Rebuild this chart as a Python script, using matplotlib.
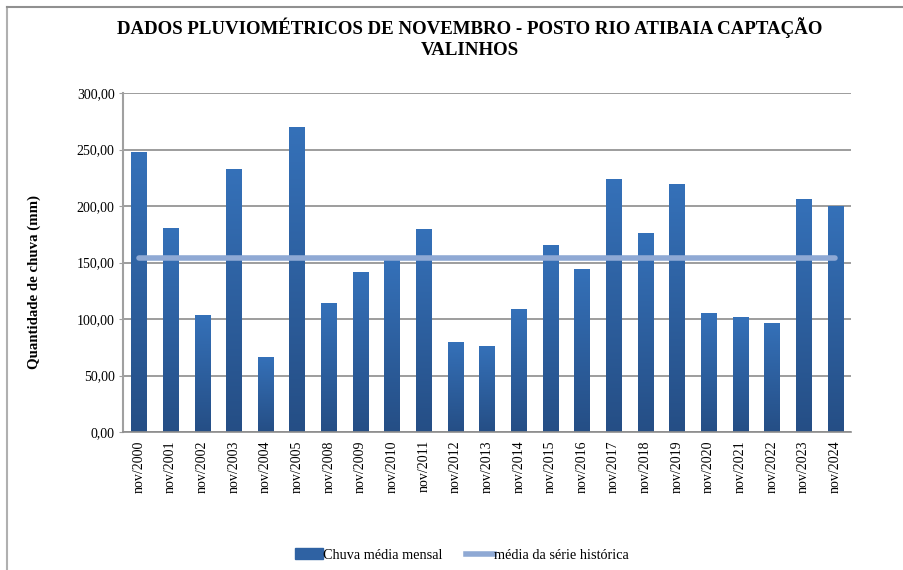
import matplotlib
matplotlib.use("Agg")
import matplotlib.pyplot as plt
import numpy as np
from matplotlib.lines import Line2D
from matplotlib.patches import Rectangle
from matplotlib.colors import LinearSegmentedColormap

categories = ["nov/2000", "nov/2001", "nov/2002", "nov/2003", "nov/2004", "nov/2005",
              "nov/2008", "nov/2009", "nov/2010", "nov/2011", "nov/2012", "nov/2013",
              "nov/2014", "nov/2015", "nov/2016", "nov/2017", "nov/2018", "nov/2019",
              "nov/2020", "nov/2021", "nov/2022", "nov/2023", "nov/2024"]
chuva = [248.0, 180.8, 103.8, 233.0, 66.6, 270.2,
         114.4, 141.9, 152.5, 179.9, 79.9, 76.4,
         109.1, 165.7, 144.5, 224.2, 176.4, 219.7,
         105.6, 102.0, 96.7, 206.5, 200.3]
media_historica = 154.2
yticks = [0, 50, 100, 150, 200, 250, 300]
ytick_labels = ["0,00", "50,00", "100,00", "150,00", "200,00", "250,00", "300,00"]

plt.rcParams['font.family'] = ['Liberation Serif', 'DejaVu Serif']

fig = plt.figure(figsize=(9.04, 5.70), dpi=100)
ax = fig.add_axes([123/904, 1-432/570, (851-123)/904, (432-93)/570])

x = np.arange(len(categories))
bars = ax.bar(x, chuva, width=0.48, color="#2f62a3", zorder=2)

# vertical gradient inside bars
grad = np.linspace(0, 1, 256).reshape(-1, 1)
cmap = LinearSegmentedColormap.from_list("g", ["#254e85", "#3571b9"])
for b in bars:
    im = ax.imshow(grad, extent=[b.get_x(), b.get_x() + b.get_width(), 0, b.get_height()],
                   origin="lower", cmap=cmap, aspect="auto", zorder=2.1)
    im.set_clip_path(b)

ax.plot([x[0], x[-1]], [media_historica, media_historica], color="#8fa9d4", lw=4,
        solid_capstyle="round", zorder=3)

ax.set_xlim(-0.5, len(categories) - 0.5)
ax.set_ylim(0, 300)
ax.set_yticks(yticks)
ax.set_yticklabels(ytick_labels, fontsize=10)
ax.set_xticks(x)
ax.set_xticklabels(categories, rotation=90, fontsize=10)
ax.tick_params(axis="x", length=0, pad=6)
ax.tick_params(axis="y", length=3, color="#a0a0a0", pad=3)
ax.yaxis.grid(True, color="#8c8c8c", lw=1.2, zorder=0)
ax.set_axisbelow(True)
for s in ["top", "right"]:
    ax.spines[s].set_visible(False)
ax.spines["left"].set_color("#a0a0a0")
ax.spines["left"].set_linewidth(1.5)
ax.spines["bottom"].set_color("#8c8c8c")
ax.spines["bottom"].set_linewidth(1.2)

fig.text(34/904, 1-282/570, "Quantidade de chuva (mm)", rotation=90, ha="center", va="center",
         fontsize=10.7, fontweight="bold")

fig.text(470/904, 1-38/570, "DADOS PLUVIOMÉTRICOS DE NOVEMBRO - POSTO RIO ATIBAIA CAPTAÇÃO\nVALINHOS",
         ha="center", va="center", fontsize=13.6, fontweight="bold", linespacing=1.3)

handles = [Rectangle((0, 0), 1, 1, color="#2f62a3"),
           Line2D([0], [0], color="#8fa9d4", lw=4)]
fig.legend(handles, ["Chuva média mensal", "média da série histórica"],
           loc="center", bbox_to_anchor=(462/904, 1-555/570), ncol=2, frameon=False,
           fontsize=10.3, handlelength=2.0, handletextpad=0.0, columnspacing=1.6)

# chart frame lines
fig.add_artist(Line2D([7/904, 7/904], [0, 1-7/570], color="#b0b0b0", lw=1.5, transform=fig.transFigure))
fig.add_artist(Line2D([7/904, 1], [1-7/570, 1-7/570], color="#909090", lw=1.5, transform=fig.transFigure))

fig.savefig("out.png", dpi=100, facecolor="white")
